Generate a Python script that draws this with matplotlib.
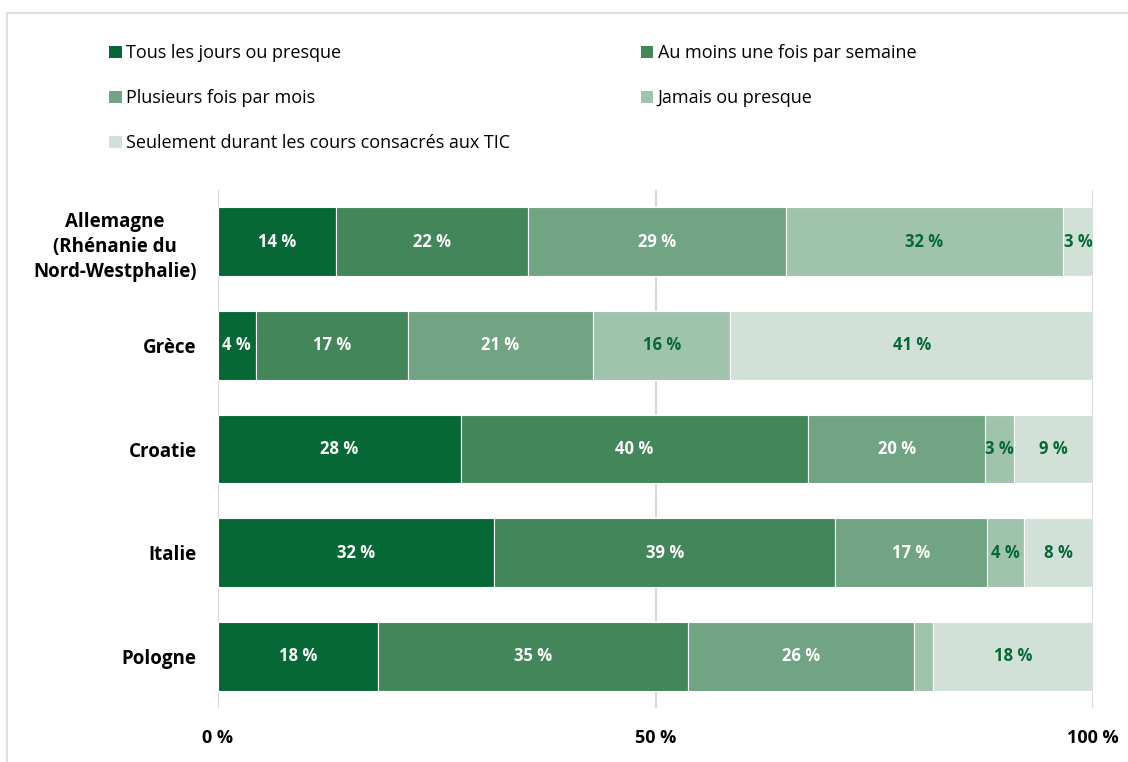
import matplotlib.pyplot as plt
from matplotlib.lines import Line2D
from matplotlib.patches import Patch
import numpy as np

plt.rcParams['font.family'] = ['Open Sans', 'DejaVu Sans']

countries = ["Allemagne\n(Rhénanie du\nNord-Westphalie)", "Grèce", "Croatie", "Italie", "Pologne"]
series = [
    "Tous les jours ou presque",
    "Au moins une fois par semaine",
    "Plusieurs fois par mois",
    "Jamais ou presque",
    "Seulement durant les cours consacrés aux TIC",
]
tous_les_jours = [13.5, 4.3, 27.8, 31.6, 18.3]
une_fois_semaine = [21.9, 17.4, 39.6, 38.9, 35.4]
fois_par_mois = [29.4, 21.1, 20.3, 17.4, 25.8]
jamais = [31.7, 15.7, 3.3, 4.2, 2.1]
cours_tic = [3.4, 41.4, 9.0, 7.9, 18.3]

colors = ["#066935", "#43865a", "#70a482", "#a0c3ad", "#d1e1d7"]
label_colors = ["white", "white", "white", "#066935", "#066935"]

raw = [tous_les_jours, une_fois_semaine, fois_par_mois, jamais, cours_tic]
data = np.array(raw)
data = data / data.sum(axis=0) * 100  # each bar spans the full 0-100 % scale

fig = plt.figure(figsize=(11.28, 7.62), dpi=100)
ax = fig.add_axes([218 / 1128, 1 - 708 / 762, 875 / 1128, 518 / 762])

y = np.arange(len(countries))
left = np.zeros(len(countries))
for i, name in enumerate(series):
    bars = ax.barh(y, data[i], left=left, height=0.665, color=colors[i],
                   edgecolor="white", linewidth=0.8, label=name, zorder=3)
    for j, b in enumerate(bars):
        v = raw[i][j]
        if v >= 3:
            ax.text(left[j] + data[i][j] / 2, y[j], f"{v:.0f} %", ha="center", va="center",
                    color=label_colors[i], fontsize=12, fontweight="bold", zorder=4)
    left += data[i]

ax.set_xlim(0, 100)
ax.set_ylim(4.5, -0.5)
ax.set_xticks([0, 50, 100])
ax.set_xticklabels(["0 %", "50 %", "100 %"], fontsize=13, fontweight="bold")
ax.set_yticks(y)
ax.set_yticklabels(countries, fontsize=13.5, fontweight="bold", linespacing=1.35,
                   multialignment="center")
ax.tick_params(length=0, pad=15.5, axis="y")
ax.tick_params(length=0, pad=15, axis="x")
ax.xaxis.grid(True, color="#d9d9d9", linewidth=1.5, zorder=0)
ax.set_axisbelow(True)
for s in ax.spines.values():
    s.set_visible(False)

# legend in two columns, filled row by row
handles = [Patch(facecolor=c) for c in colors]
order = [0, 2, 4, 1, 3]
fig.legend([handles[k] for k in order], [series[k] for k in order], ncol=2,
           loc="upper left", bbox_to_anchor=(93 / 1128, 1 - 28 / 762), frameon=False,
           fontsize=13, handlelength=0.7, handleheight=0.7, handletextpad=0.25,
           labelspacing=1.5, columnspacing=7.2)

# light frame along the top and left
fig.add_artist(Line2D([7 / 1128, 1], [1 - 12.5 / 762, 1 - 12.5 / 762], color="#e0e0e0", linewidth=1.5))
fig.add_artist(Line2D([7 / 1128, 7 / 1128], [0, 1 - 12.5 / 762], color="#e0e0e0", linewidth=1.5))

fig.savefig("out.png", dpi=100)
